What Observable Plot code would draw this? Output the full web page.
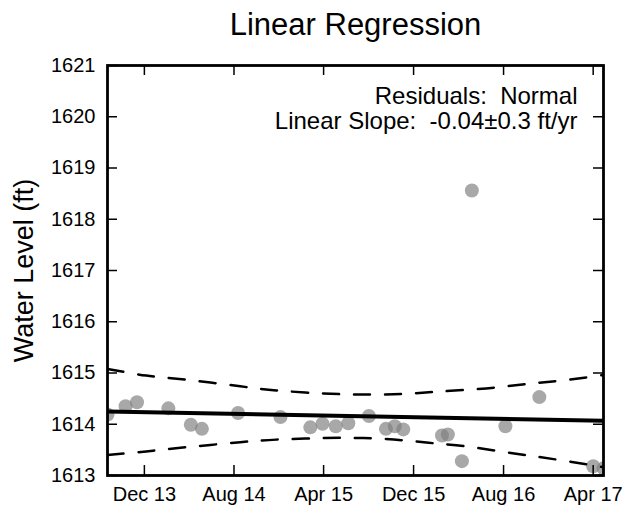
<!DOCTYPE html>
<html>
<head>
<meta charset="utf-8">
<script src="https://cdn.jsdelivr.net/npm/d3@7"></script>
<script src="https://cdn.jsdelivr.net/npm/@observablehq/plot@0.6"></script>
<style>
  body { margin: 0; background: #fff; }
  #chart svg { font-family: "Liberation Sans", Arial, sans-serif; color: #000; background: #fff; }
</style>
</head>
<body>
<div id="chart"></div>
<script>
const title = "Linear Regression";
const yLabel = "Water Level (ft)";
const annotationLine1 = "Residuals:\u00a0\u00a0Normal";
const annotationLine2 = "Linear Slope:\u00a0\u00a0-0.04\u00b10.3 ft/yr";

const obsDates = ["2013-08-23","2013-10-11","2013-11-11","2014-02-04","2014-04-06","2014-05-06",
  "2014-08-12","2014-12-05","2015-02-24","2015-03-29","2015-05-04","2015-06-07","2015-08-02",
  "2015-09-17","2015-10-11","2015-11-03","2016-02-16","2016-03-03","2016-04-10","2016-05-07",
  "2016-08-06","2016-11-06","2017-04-01","2017-04-29"];
const obsLevels = [1614.19,1614.35,1614.43,1614.31,1613.99,1613.91,
  1614.22,1614.14,1613.94,1614.01,1613.96,1614.02,1614.16,
  1613.91,1613.96,1613.90,1613.78,1613.80,1613.28,1618.56,
  1613.96,1614.53,1613.18,1613.14];

const fitDates = ["2013-08-23","2017-04-29"];
const fitLevels = [1614.25, 1614.07];

const bandDates = ["2013-08-23","2013-12-06","2014-03-22","2014-08-18","2014-11-24","2015-03-31",
  "2015-07-18","2015-10-29","2016-01-24","2016-04-19","2016-07-15","2016-10-07","2017-01-02",
  "2017-03-30","2017-04-29"];
const bandUpper = [1615.08,1614.95,1614.87,1614.74,1614.66,1614.60,
  1614.58,1614.59,1614.63,1614.67,1614.72,1614.79,1614.85,1614.93,1614.96];
const bandLower = [1613.40,1613.47,1613.55,1613.65,1613.70,1613.73,
  1613.73,1613.69,1613.63,1613.57,1613.48,1613.39,1613.30,1613.20,1613.16];

const xTickDates = ["2013-12-01","2014-08-01","2015-04-01","2015-12-01","2016-08-01","2017-04-01"];
const xTickLabels = ["Dec 13","Aug 14","Apr 15","Dec 15","Aug 16","Apr 17"];
const yTicks = [1613,1614,1615,1616,1617,1618,1619,1620,1621];

const obs = obsDates.map((d, i) => ({date: new Date(d), level: obsLevels[i]}));
const fit = fitDates.map((d, i) => ({date: new Date(d), level: fitLevels[i]}));
const band = bandDates.map((d, i) => ({date: new Date(d), upper: bandUpper[i], lower: bandLower[i]}));
const xTicks = xTickDates.map(d => new Date(d));
const labelMap = new Map(xTicks.map((d, i) => [+d, xTickLabels[i]]));

const W = 624, H = 510;
const mL = 107, mR = 21, mT = 65, mB = 35;
const frameW = W - mL - mR, frameH = H - mT - mB;
const tickLen = 10;

const chart = Plot.plot({
  width: W,
  height: H,
  marginLeft: mL,
  marginRight: mR,
  marginTop: mT,
  marginBottom: mB,
  style: {fontFamily: '"Liberation Sans", Arial, sans-serif', color: "#000", background: "#fff"},
  x: {type: "utc", domain: [new Date(fitDates[0]), new Date(fitDates[1])]},
  y: {domain: [1613, 1621]},
  marks: [
    Plot.dot(obs, {x: "date", y: "level", r: 7, fill: "#7f7f7f", fillOpacity: 0.68, stroke: "none", clip: true}),
    Plot.line(band, {x: "date", y: "upper", stroke: "#000", strokeWidth: 2.5, strokeDasharray: "16,15", curve: "natural", clip: true}),
    Plot.line(band, {x: "date", y: "lower", stroke: "#000", strokeWidth: 2.5, strokeDasharray: "16,15", curve: "natural", clip: true}),
    Plot.line(fit, {x: "date", y: "level", stroke: "#000", strokeWidth: 4, clip: true}),
    Plot.tickY(yTicks, {y: d => d, insetRight: frameW - tickLen, stroke: "#000", strokeWidth: 1.5}),
    Plot.tickY(yTicks, {y: d => d, insetLeft: frameW - tickLen, stroke: "#000", strokeWidth: 1.5}),
    Plot.tickX(xTicks, {x: d => d, insetTop: frameH - tickLen, stroke: "#000", strokeWidth: 1.5}),
    Plot.tickX(xTicks, {x: d => d, insetBottom: frameH - tickLen, stroke: "#000", strokeWidth: 1.5}),
    Plot.axisY(yTicks, {anchor: "left", tickSize: 0, tickPadding: 12, fontSize: 20, label: null, tickFormat: d => String(d)}),
    Plot.axisX(xTicks, {anchor: "bottom", tickSize: 0, tickPadding: 11, fontSize: 20, label: null, tickFormat: d => labelMap.get(+d)}),
    Plot.frame({stroke: "#000", strokeWidth: 2.8}),
    Plot.text([title], {frameAnchor: "top", dy: -31, lineAnchor: "bottom", fontSize: 31, fill: "#000"}),
    Plot.text([yLabel], {frameAnchor: "left", dx: -75, rotate: -90, lineAnchor: "bottom", textAnchor: "middle", fontSize: 27, fill: "#000"}),
    Plot.text([annotationLine1], {frameAnchor: "top-right", dx: -26, dy: 38, lineAnchor: "bottom", textAnchor: "end", fontSize: 24, fill: "#000"}),
    Plot.text([annotationLine2], {frameAnchor: "top-right", dx: -26, dy: 63, lineAnchor: "bottom", textAnchor: "end", fontSize: 24, fill: "#000"})
  ]
});
document.getElementById("chart").appendChild(chart);
</script>
</body>
</html>
